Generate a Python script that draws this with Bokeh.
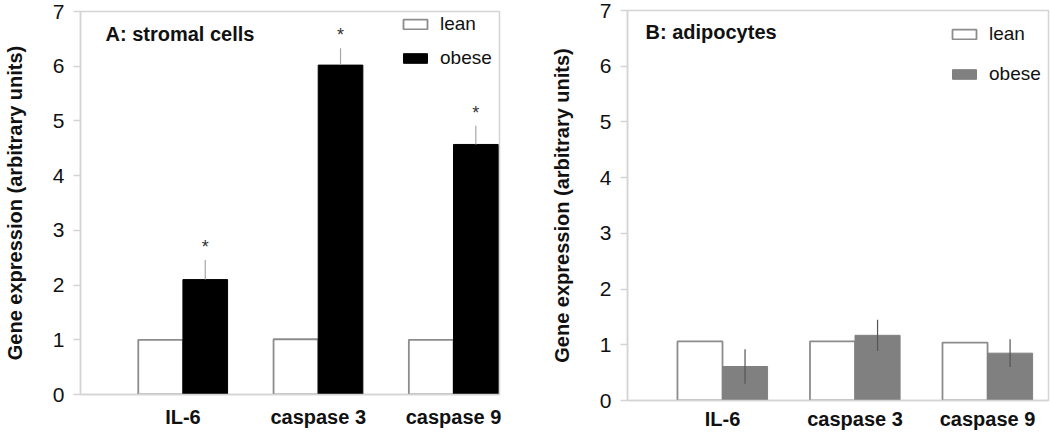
from bokeh.plotting import figure
from bokeh.models import ColumnDataSource, Range1d, FixedTicker, Legend, LegendItem, Label
from bokeh.transform import dodge
from bokeh.layouts import row, column
from bokeh.embed import file_html
from bokeh.resources import INLINE
from bokeh.core.properties import value

# ---------------- data ----------------
categories = ["IL-6", "caspase 3", "caspase 9"]

# Panel A: stromal cells
lean_a = [1.00, 1.01, 1.00]
obese_a = [2.10, 6.02, 4.57]
obese_err_a = [0.36, 0.31, 0.34]
sig_a = ["*", "*", "*"]

# Panel B: adipocytes
lean_b = [1.06, 1.06, 1.04]
obese_b = [0.61, 1.17, 0.85]
obese_err_b = [0.31, 0.28, 0.25]

y_ticks = [0, 1, 2, 3, 4, 5, 6, 7]
series_names = ["lean", "obese"]
panel_titles = ["A: stromal cells", "B: adipocytes"]
y_title = "Gene expression (arbitrary units)"

FONT = "Liberation Sans"
GRID_GRAY = "#d4d4d4"
EDGE_GRAY = "#8c8c8c"
H = 432


def make_panel(title, lean, obese, err, obese_color, err_color, upward_only,
               sig, width, border_left, border_right, border_top, frame_h,
               xr, bar_w, legend_loc, title_pos, xlabel_standoff):
    idx = list(range(len(categories)))
    if upward_only:
        lo = list(obese)
    else:
        lo = [v - e for v, e in zip(obese, err)]
    hi = [v + e for v, e in zip(obese, err)]
    src = ColumnDataSource(dict(x=idx, cat=categories, lean=lean, obese=obese,
                                lo=lo, hi=hi,
                                sig=sig if sig else [""] * len(idx)))
    p = figure(width=width, height=H, output_backend="svg", toolbar_location=None,
               x_range=Range1d(*xr), y_range=Range1d(0, 7),
               min_border_left=border_left, min_border_right=border_right,
               min_border_top=border_top, min_border_bottom=H - border_top - frame_h)
    p.grid.visible = False
    p.outline_line_color = GRID_GRAY
    p.outline_line_width = 1.5
    p.background_fill_color = "white"
    p.border_fill_color = "white"

    r_lean = p.vbar(x=dodge("x", -bar_w / 2), top="lean", bottom=0, width=bar_w, source=src,
                    fill_color="white", line_color=EDGE_GRAY, line_width=1.8)
    r_obese = p.vbar(x=dodge("x", bar_w / 2), top="obese", bottom=0, width=bar_w, source=src,
                     fill_color=obese_color, line_color=obese_color, line_width=1)
    p.segment(x0=dodge("x", bar_w / 2), y0="lo", x1=dodge("x", bar_w / 2), y1="hi",
              source=src, line_color=err_color, line_width=1.2)
    if sig:
        p.text(x=dodge("x", bar_w / 2), y="hi", text="sig", source=src,
               text_font=value(FONT), text_font_size="18px", text_color="#333333",
               text_align="center", text_baseline="bottom", y_offset=-3)

    # axes
    p.yaxis.ticker = FixedTicker(ticks=y_ticks)
    p.yaxis.axis_line_color = GRID_GRAY
    p.yaxis.axis_line_width = 1.5
    p.yaxis.major_tick_line_color = GRID_GRAY
    p.yaxis.major_tick_line_width = 1.5
    p.yaxis.major_tick_out = 7
    p.yaxis.major_tick_in = 0
    p.yaxis.minor_tick_line_color = None
    p.yaxis.major_label_text_font = FONT
    p.yaxis.major_label_text_font_size = "21px"
    p.yaxis.major_label_text_color = "#111111"
    p.yaxis.major_label_standoff = 9
    p.yaxis.axis_label = y_title
    p.yaxis.axis_label_text_font = FONT
    p.yaxis.axis_label_text_font_style = "bold"
    p.yaxis.axis_label_text_font_size = "20px"
    p.yaxis.axis_label_text_color = "#111111"
    p.yaxis.axis_label_standoff = 24

    p.xaxis.ticker = FixedTicker(ticks=idx)
    p.xaxis.major_label_overrides = {i: c for i, c in zip(idx, categories)}
    p.xaxis.axis_line_color = GRID_GRAY
    p.xaxis.axis_line_width = 1.5
    p.xaxis.major_tick_line_color = None
    p.xaxis.major_tick_out = 0
    p.xaxis.major_tick_in = 0
    p.xaxis.minor_tick_line_color = None
    p.xaxis.major_label_text_font = FONT
    p.xaxis.major_label_text_font_style = "bold"
    p.xaxis.major_label_text_font_size = "20px"
    p.xaxis.major_label_text_color = "#111111"
    p.xaxis.major_label_standoff = xlabel_standoff
    p.xaxis.axis_label_standoff = 0

    # legend
    legend = Legend(items=[LegendItem(label=series_names[0], renderers=[r_lean]),
                           LegendItem(label=series_names[1], renderers=[r_obese])],
                    location=legend_loc[:2], orientation="vertical",
                    glyph_width=30, glyph_height=12, label_height=22,
                    spacing=legend_loc[2], padding=0, margin=0, label_standoff=10,
                    label_text_font=FONT, label_text_font_size="19px",
                    label_text_color="#111111",
                    border_line_color=None, background_fill_alpha=0)
    p.add_layout(legend, "center")

    p.add_layout(Label(x=title_pos[0], y=frame_h - title_pos[1], x_units="screen", y_units="screen",
                       text=title, text_font=FONT, text_font_style="bold",
                       text_font_size="20px", text_color="#111111",
                       text_baseline="middle", text_align="left"))
    return p


# Panel A: frame x 78..499, y 11..394
pa = make_panel(panel_titles[0], lean_a, obese_a, obese_err_a, "black", "#a6a6a6", True,
                sig_a, width=540, border_left=78, border_right=41, border_top=11, frame_h=383,
                xr=(-0.757, 2.34), bar_w=0.33, legend_loc=(320, 325, 12),
                title_pos=(25, 22), xlabel_standoff=11)
# Panel B: frame x 627..1048, y 10..401
pb = make_panel(panel_titles[1], lean_b, obese_b, obese_err_b, "#808080", "#555555", False,
                None, width=510, border_left=87, border_right=2, border_top=10, frame_h=391,
                xr=(-0.717, 2.46), bar_w=0.34, legend_loc=(322, 315, 18),
                title_pos=(18, 22), xlabel_standoff=7)

layout = row(column(pa), column(pb))
open("out.html", "w").write(file_html(layout, INLINE))
